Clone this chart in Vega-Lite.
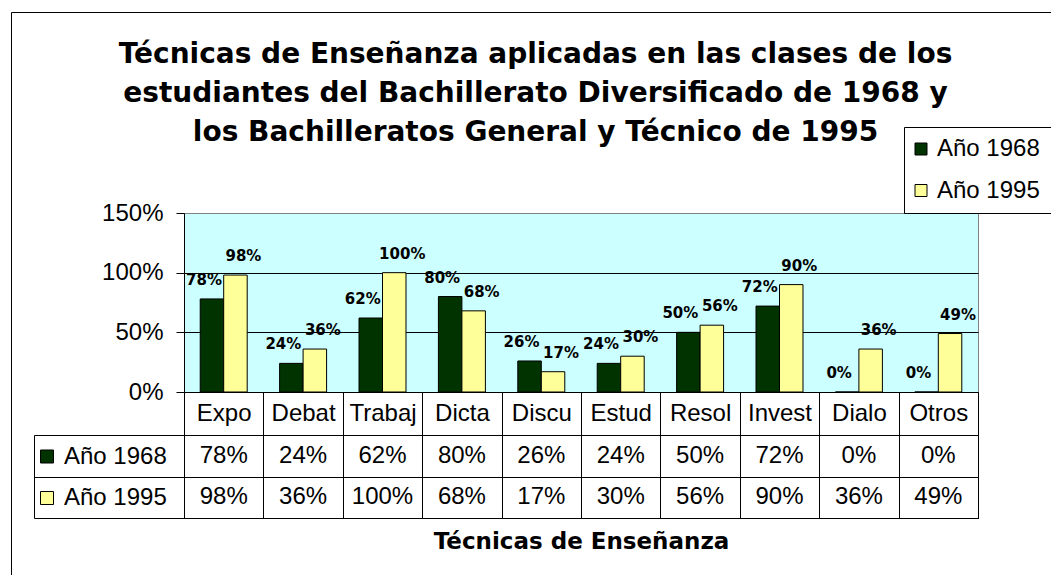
{
  "$schema": "https://vega.github.io/schema/vega-lite/v6.json",
  "padding": {"left": 10, "top": 11, "right": 0, "bottom": 0},
  "background": "white",
  "bounds": "flush",
  "spacing": 43,
  "title": {
    "text": ["Técnicas de Enseñanza aplicadas en las clases de los", "estudiantes del Bachillerato Diversificado de 1968 y", "los Bachilleratos General y Técnico de 1995"],
    "font": "DejaVu Sans", "fontSize": 28, "fontWeight": "bold", "lineHeight": 39, "color": "black",
    "anchor": "start", "align": "center", "frame": "bounds", "dx": 525, "offset": -135
  },
  "datasets": {
    "d": [
      {"tecnica": "Expo", "anio": "Año 1968", "valor": 0.78},
      {"tecnica": "Expo", "anio": "Año 1995", "valor": 0.98},
      {"tecnica": "Debat", "anio": "Año 1968", "valor": 0.24},
      {"tecnica": "Debat", "anio": "Año 1995", "valor": 0.36},
      {"tecnica": "Trabaj", "anio": "Año 1968", "valor": 0.62},
      {"tecnica": "Trabaj", "anio": "Año 1995", "valor": 1.00},
      {"tecnica": "Dicta", "anio": "Año 1968", "valor": 0.80},
      {"tecnica": "Dicta", "anio": "Año 1995", "valor": 0.68},
      {"tecnica": "Discu", "anio": "Año 1968", "valor": 0.26},
      {"tecnica": "Discu", "anio": "Año 1995", "valor": 0.17},
      {"tecnica": "Estud", "anio": "Año 1968", "valor": 0.24},
      {"tecnica": "Estud", "anio": "Año 1995", "valor": 0.30},
      {"tecnica": "Resol", "anio": "Año 1968", "valor": 0.50},
      {"tecnica": "Resol", "anio": "Año 1995", "valor": 0.56},
      {"tecnica": "Invest", "anio": "Año 1968", "valor": 0.72},
      {"tecnica": "Invest", "anio": "Año 1995", "valor": 0.90},
      {"tecnica": "Dialo", "anio": "Año 1968", "valor": 0.00},
      {"tecnica": "Dialo", "anio": "Año 1995", "valor": 0.36},
      {"tecnica": "Otros", "anio": "Año 1968", "valor": 0.00},
      {"tecnica": "Otros", "anio": "Año 1995", "valor": 0.49}
    ]
  },
  "vconcat": [
    {
      "width": 794,
      "height": 179,
      "view": {"fill": "#CCFFFF", "stroke": "#808080"},
      "data": {"name": "d"},
      "encoding": {
        "x": {
          "field": "tecnica", "type": "nominal",
          "sort": ["Expo", "Debat", "Trabaj", "Dicta", "Discu", "Estud", "Resol", "Invest", "Dialo", "Otros"],
          "scale": {"paddingInner": 0, "paddingOuter": 0},
          "axis": {"title": null, "tickBand": "extent", "tickSize": 43, "labelPadding": -21.5, "labelBaseline": "middle", "labelAngle": 0, "labelFontSize": 24, "labelFlush": false, "labelOverlap": false, "labelLimit": 200}
        },
        "xOffset": {"field": "anio", "type": "nominal", "sort": ["Año 1968", "Año 1995"], "scale": {"paddingInner": 0, "paddingOuter": 0.69}},
        "y": {
          "field": "valor", "type": "quantitative",
          "scale": {"domain": [0, 1.5], "nice": false},
          "axis": {"title": null, "values": [0, 0.5, 1, 1.5], "format": ".0%", "tickSize": 8, "labelPadding": 13, "labelFontSize": 24, "grid": true,
                   "gridColor": {"condition": {"test": "datum.value > 1.4", "value": "#808080"}, "value": "black"}}
        }
      },
      "layer": [
        {
          "mark": {"type": "bar", "stroke": "black", "strokeWidth": 1},
          "encoding": {
            "color": {
              "field": "anio", "type": "nominal",
              "scale": {"domain": ["Año 1968", "Año 1995"], "range": ["#003300", "#FFFF99"]},
              "legend": {"orient": "none", "legendX": 720, "legendY": -86, "title": " ", "titleOrient": "right", "titleOpacity": 0, "titlePadding": 16, "titleFontSize": 20,
                         "symbolType": "square", "symbolSize": 144,
                         "symbolOffset": -5, "symbolStrokeColor": "black", "symbolStrokeWidth": 1, "labelFontSize": 24, "labelOffset": 4,
                         "rowPadding": 17.5, "padding": 10, "strokeColor": "black", "labelColor": "black"}
            }
          }
        },
        {
          "transform": [{"filter": "datum.anio == 'Año 1968'"}],
          "mark": {"type": "text", "dy": -19, "dx": -8, "font": "DejaVu Sans", "fontSize": 15, "fontWeight": "bold", "color": "black"},
          "encoding": {"text": {"field": "valor", "type": "quantitative", "format": ".0%"}}
        },
        {
          "transform": [{"filter": "datum.anio == 'Año 1995'"}],
          "mark": {"type": "text", "dy": -19, "dx": 8, "font": "DejaVu Sans", "fontSize": 15, "fontWeight": "bold", "color": "black"},
          "encoding": {"text": {"field": "valor", "type": "quantitative", "format": ".0%"}}
        },
        {
          "mark": {"type": "point", "opacity": 0},
          "encoding": {
            "shape": {
              "field": "tecnica", "type": "nominal",
              "legend": {"orient": "none", "legendX": -173, "legendY": -201, "title": null, "values": ["Expo", "Debat"],
                         "direction": "horizontal", "columnPadding": 480, "symbolSize": 1, "symbolOpacity": 0,
                         "labelExpr": "''", "labelFontSize": 1, "padding": 285, "strokeColor": "black"}
            }
          }
        }
      ]
    },
    {
      "width": 794,
      "height": 83,
      "view": {"stroke": "black", "fill": "white"},
      "data": {"name": "d"},
      "encoding": {
        "x": {
          "field": "tecnica", "type": "nominal",
          "sort": ["Expo", "Debat", "Trabaj", "Dicta", "Discu", "Estud", "Resol", "Invest", "Dialo", "Otros"],
          "scale": {"paddingInner": 0, "paddingOuter": 0},
          "axis": {"title": "Técnicas de Enseñanza", "titleFont": "DejaVu Sans", "titleFontSize": 23, "titleFontWeight": "bold", "titlePadding": 12,
                   "labels": false, "ticks": false, "domain": true, "grid": true, "tickBand": "extent"}
        },
        "y": {
          "field": "anio", "type": "nominal",
          "scale": {"domain": ["Año 1968", "Año 1995"], "paddingInner": 0, "paddingOuter": 0},
          "axis": {"title": null, "labels": false, "offset": 150, "tickSize": -150, "tickBand": "extent", "grid": true, "domain": true}
        }
      },
      "layer": [
        {
          "mark": {"type": "text", "fontSize": 24, "color": "black"},
          "encoding": {"text": {"field": "valor", "type": "quantitative", "format": ".0%"}}
        },
        {
          "mark": {"type": "square", "opacity": 0, "stroke": "black", "strokeWidth": 1},
          "encoding": {
            "color": {
              "field": "anio", "type": "nominal",
              "scale": {"domain": ["Año 1968", "Año 1995"], "range": ["#003300", "#FFFF99"]},
              "legend": {"orient": "none", "legendX": -149, "legendY": 9.5, "title": null, "symbolType": "square", "symbolSize": 169,
                         "symbolStrokeColor": "black", "symbolStrokeWidth": 1, "symbolOpacity": 1, "labelFontSize": 24, "labelOffset": 5,
                         "rowPadding": 17.5, "padding": 0, "labelColor": "black"}
            }
          }
        }
      ]
    }
  ],
  "resolve": {"legend": {"color": "independent"}, "scale": {"x": "independent", "y": "independent", "color": "shared"}},
  "config": {
    "font": "Liberation Sans",
    "axis": {"domainColor": "black", "tickColor": "black", "gridColor": "black", "labelColor": "black", "titleColor": "black"},
    "legend": {"labelFont": "Liberation Sans"}
  }
}
